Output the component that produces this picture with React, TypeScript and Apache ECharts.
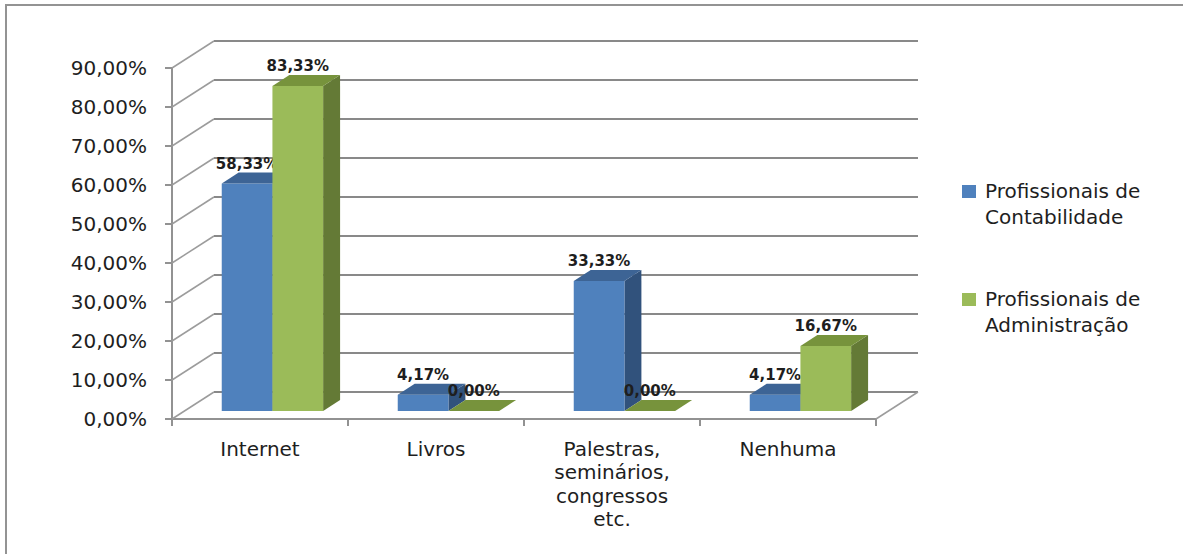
import React, { useEffect, useRef } from "react";
import * as echarts from "echarts";

// Category labels, series names and values (percent)
const categories = ["Internet", "Livros", "Palestras,\nseminários,\ncongressos\netc.", "Nenhuma"];
const seriesNames = ["Profissionais de\nContabilidade", "Profissionais de\nAdministração"];
const contabilidade = [58.33, 4.17, 33.33, 4.17];
const administracao = [83.33, 0, 0, 16.67];
const yTicks = [0, 10, 20, 30, 40, 50, 60, 70, 80, 90];

// 3D look: depth vector of the floor, and where the bars sit inside it
const DEPTH = { x: 42, y: -27 };
const BAR_FRONT = 0.296;
const BAR_BACK = 0.7;
const BAR_FRAC = 0.288;

const FONT = "'DejaVu Sans', Verdana, sans-serif";

const faces = [
  { front: "#4F81BD", top: "#3D6495", side: "#31527C" },
  { front: "#9BBB59", top: "#77933C", side: "#647A36" },
];

const fmt = (v: number) => v.toFixed(2).replace(".", ",") + "%";

const makeBarRenderer = (si: number) => (params: any, api: any) => {
  const cat = api.value(0);
  const val = api.value(1);
  const base = api.coord([cat, 0]);
  const top = api.coord([cat, val]);
  const band = api.size([1, 0])[0];
  const w = band * BAR_FRAC;
  const fx = DEPTH.x * BAR_FRONT;
  const fy = DEPTH.y * BAR_FRONT;
  const dx = DEPTH.x * (BAR_BACK - BAR_FRONT);
  const dy = DEPTH.y * (BAR_BACK - BAR_FRONT);
  const x0 = base[0] + fx + (si - 1) * w;
  const yb = base[1] + fy;
  const yt = top[1] + fy;
  const c = faces[si];
  return {
    type: "group",
    children: [
      {
        type: "polygon",
        shape: { points: [[x0 + w, yt], [x0 + w + dx, yt + dy], [x0 + w + dx, yb + dy], [x0 + w, yb]] },
        style: { fill: c.side },
      },
      {
        type: "rect",
        shape: { x: x0, y: yt, width: w, height: Math.max(0, yb - yt) },
        style: { fill: c.front },
      },
      {
        type: "polygon",
        shape: { points: [[x0, yt], [x0 + w, yt], [x0 + w + dx, yt + dy], [x0 + dx, yt + dy]] },
        style: { fill: c.top },
      },
      {
        type: "text",
        z2: 10,
        style: {
          text: fmt(val),
          x: x0 + w / 2,
          y: yt + dy - 9,
          align: "center",
          verticalAlign: "middle",
          fontFamily: FONT,
          fontSize: 15,
          fontWeight: "bold",
          fill: "#1e1e1e",
        },
      },
    ],
  };
};

const renderWalls = (params: any, api: any) => {
  const v = api.value(1);
  const cs = params.coordSys;
  const y = api.coord([0, v])[1];
  const left = cs.x;
  const right = cs.x + cs.width;
  const children: any[] = [
    {
      type: "line",
      shape: { x1: left, y1: y, x2: left + DEPTH.x, y2: y + DEPTH.y },
      style: { stroke: "#9c9c9c", lineWidth: 1.5 },
    },
    {
      type: "line",
      shape: { x1: left + DEPTH.x, y1: y + DEPTH.y, x2: right + DEPTH.x, y2: y + DEPTH.y },
      style: { stroke: "#898989", lineWidth: 2 },
    },
  ];
  if (v === 0) {
    children.push({
      type: "line",
      shape: { x1: right, y1: y, x2: right + DEPTH.x, y2: y + DEPTH.y },
      style: { stroke: "#9c9c9c", lineWidth: 1.5 },
    });
  }
  return { type: "group", children };
};

// legend rows: square top edge
const legendRows = [
  { y: 185 },
  { y: 293 },
];

export default function App() {
  const ref = useRef<HTMLDivElement>(null);

  useEffect(() => {
    if (!ref.current) return;
    const chart = echarts.init(ref.current, undefined, { renderer: "svg" });

    const legendGraphics: any[] = [];
    seriesNames.forEach((name, i) => {
      legendGraphics.push({
        type: "rect",
        shape: { x: 962, y: legendRows[i].y, width: 14, height: 13 },
        style: { fill: faces[i].front },
        silent: true,
      });
      legendGraphics.push({
        type: "text",
        x: 985,
        y: legendRows[i].y - 7,
        style: {
          text: name,
          fontFamily: FONT,
          fontSize: 20,
          lineHeight: 26,
          fill: "#1e1e1e",
          verticalAlign: "top",
        },
        silent: true,
      });
    });

    chart.setOption({
      animation: false,
      backgroundColor: "#ffffff",
      grid: { left: 172, top: 68, width: 704, height: 351 },
      xAxis: {
        type: "category",
        data: categories,
        boundaryGap: true,
        axisLine: { show: true, lineStyle: { color: "#929292", width: 2 } },
        axisTick: { show: true, length: 7, alignWithLabel: false, lineStyle: { color: "#929292", width: 2 } },
        axisLabel: {
          interval: 0,
          margin: 18,
          fontFamily: FONT,
          fontSize: 20,
          lineHeight: 23.5,
          color: "#1e1e1e",
        },
        splitLine: { show: false },
      },
      yAxis: {
        type: "value",
        min: 0,
        max: 90,
        interval: 10,
        axisLine: { show: true, lineStyle: { color: "#929292", width: 2 } },
        axisTick: { show: true, length: 7, lineStyle: { color: "#929292", width: 2 } },
        axisLabel: {
          margin: 25,
          formatter: (v: number) => fmt(v),
          fontFamily: FONT,
          fontSize: 20,
          color: "#1e1e1e",
        },
        splitLine: { show: false },
      },
      graphic: [
        {
          type: "rect",
          shape: { x: 6, y: 5, width: 1400, height: 800 },
          style: { fill: "none", stroke: "#939393", lineWidth: 2 },
          silent: true,
        },
        ...legendGraphics,
      ],
      series: [
        {
          type: "custom",
          name: "walls",
          renderItem: renderWalls,
          data: yTicks.map((v) => [0, v]),
          encode: { x: 0, y: 1 },
          z: 1,
          silent: true,
        },
        {
          type: "custom",
          name: seriesNames[0],
          renderItem: makeBarRenderer(0),
          data: contabilidade.map((v, i) => [i, v]),
          encode: { x: 0, y: 1 },
          z: 2,
        },
        {
          type: "custom",
          name: seriesNames[1],
          renderItem: makeBarRenderer(1),
          data: administracao.map((v, i) => [i, v]),
          encode: { x: 0, y: 1 },
          z: 3,
        },
      ],
    });

    return () => chart.dispose();
  }, []);

  return (
    <div
      ref={ref}
      style={{ position: "fixed", left: 0, top: 0, width: 1183, height: 554, overflow: "hidden", background: "#fff" }}
    />
  );
}
